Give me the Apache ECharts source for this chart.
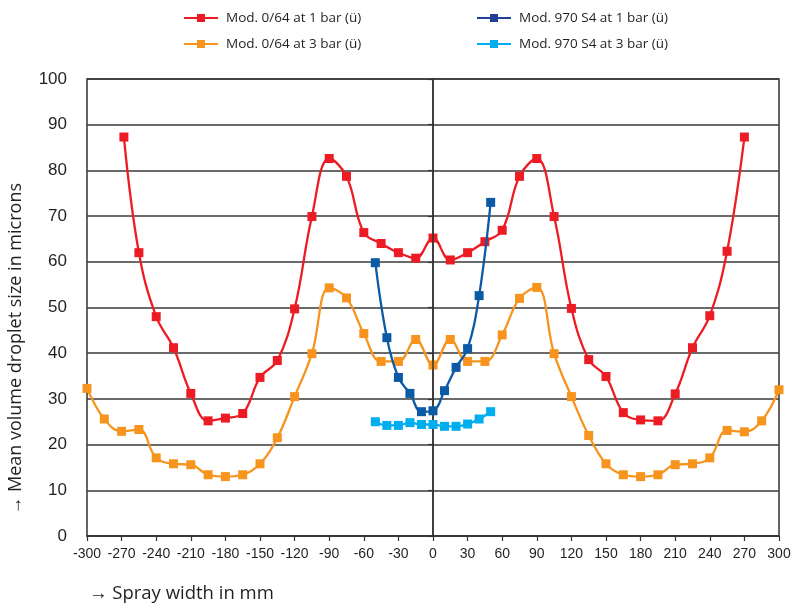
<!DOCTYPE html>
<html>
<head>
<meta charset="utf-8">
<script src="https://cdn.jsdelivr.net/npm/echarts@6/dist/echarts.min.js"></script>
<style>html,body{margin:0;padding:0;background:#fff}#c{width:807px;height:608px}</style>
</head>
<body>
<div id="c"></div>
<script>
// ---- data ----
var xTicks = [-300,-270,-240,-210,-180,-150,-120,-90,-60,-30,0,30,60,90,120,150,180,210,240,270,300];
var yTicks = [0,10,20,30,40,50,60,70,80,90,100];

var mod064_1bar_x = [-268,-255,-240,-225,-210,-195,-180,-165,-150,-135,-120,-105,-90,-75,-60,-45,-30,-15,0,15,30,45,60,75,90,105,120,135,150,165,180,195,210,225,240,255,270];
var mod064_1bar_y = [87.3,62.0,48.0,41.2,31.2,25.2,25.8,26.8,34.7,38.4,49.7,69.9,82.6,78.7,66.4,64.0,62.0,60.8,65.2,60.4,62.0,64.4,66.9,78.7,82.6,69.9,49.8,38.6,34.9,27.0,25.4,25.2,31.1,41.2,48.2,62.3,87.3];

var mod064_3bar_x = [-300,-285,-270,-255,-240,-225,-210,-195,-180,-165,-150,-135,-120,-105,-90,-75,-60,-45,-30,-15,0,15,30,45,60,75,90,105,120,135,150,165,180,195,210,225,240,255,270,285,300];
var mod064_3bar_y = [32.3,25.6,22.9,23.3,17.1,15.8,15.6,13.4,13.0,13.4,15.8,21.5,30.5,39.9,54.3,52.1,44.3,38.2,38.2,43.0,37.4,43.0,38.2,38.2,44.0,52.0,54.4,39.9,30.5,22.0,15.8,13.4,13.0,13.4,15.6,15.8,17.1,23.1,22.8,25.2,32.0];

var mod970_x = [-50,-40,-30,-20,-10,0,10,20,30,40,50];
var mod970_1bar_y = [59.8,43.4,34.7,31.2,27.2,27.4,31.8,36.9,41.0,52.6,73.0];
var mod970_3bar_y = [25.0,24.2,24.2,24.8,24.4,24.4,24.0,24.0,24.5,25.6,27.2];

var names = ['Mod. 0/64 at 1 bar (ü)','Mod. 0/64 at 3 bar (ü)','Mod. 970 S4 at 1 bar (ü)','Mod. 970 S4 at 3 bar (ü)'];
var colors = ['#ed1c24','#f7941d','#0b5aa6','#00aeef'];

function pairs(xs, ys){ return xs.map(function(x,i){ return [x, ys[i]]; }); }

var chart = echarts.init(document.getElementById('c'), null, {renderer:'canvas'});

function mkSeries(i, data, extra){
  var s = {
    name: names[i], type: 'line', data: data,
    smooth: 0.4, symbol: 'rect', symbolSize: 9, showSymbol: true,
    lineStyle: {color: colors[i], width: 2.3},
    itemStyle: {color: colors[i]},
    z: 3 + i
  };
  if (extra) for (var k in extra) s[k] = extra[k];
  return s;
}

var legendText = {fontFamily: 'Open Sans', fontSize: 13.5, color: '#231f20', padding: [0,0,0,3]};

var option = {
  animation: false,
  backgroundColor: '#fff',
  legend: [
    {left: 178, top: 6, orient: 'vertical', itemGap: 12, itemWidth: 34, itemHeight: 10,
     textStyle: legendText, data: [names[0], names[1]]},
    {left: 471, top: 6, orient: 'vertical', itemGap: 12, itemWidth: 34, itemHeight: 10,
     textStyle: legendText,
     data: [{name: names[2], itemStyle: {color: '#213f93'}, lineStyle: {color: '#213f93'}}, names[3]]}
  ],
  grid: {left: 87, right: 28, top: 79, bottom: 72, show: true, borderColor: '#333', borderWidth: 1.5, backgroundColor: 'transparent'},
  xAxis: {
    type: 'value', min: -300, max: 300, interval: 30,
    axisLine: {show: true, lineStyle: {color: '#333', width: 1.5}},
    axisTick: {show: true, length: 5, lineStyle: {color: '#333', width: 1.2}},
    axisLabel: {color: '#231f20', fontFamily: 'Liberation Sans', fontSize: 14, margin: 11},
    splitLine: {show: false}
  },
  yAxis: {
    type: 'value', min: 0, max: 100, interval: 10,
    axisLine: {show: true, lineStyle: {color: '#333', width: 1.5}},
    axisTick: {show: true, length: 5, lineStyle: {color: '#333', width: 1.2}},
    axisLabel: {color: '#231f20', fontFamily: 'Liberation Sans', fontSize: 17, margin: 20},
    splitLine: {show: true, lineStyle: {color: '#3a3a3a', width: 1.5}}
  },
  graphic: [
    {type: 'text', left: 7, top: 183, rotation: Math.PI/2,
     style: {text: '→ Mean volume droplet size in microns', fill: '#231f20', font: '18px "Open Sans"'}},
    {type: 'text', left: 89, top: 584,
     style: {text: '→ Spray width in mm', fill: '#231f20', font: '18.5px "Open Sans"'}}
  ],
  series: [
    mkSeries(0, pairs(mod064_1bar_x, mod064_1bar_y), {
      markLine: {silent: true, symbol: 'none', label: {show: false},
        lineStyle: {color: '#333', type: 'solid', width: 1.5}, data: [{xAxis: 0}]}
    }),
    mkSeries(1, pairs(mod064_3bar_x, mod064_3bar_y)),
    mkSeries(2, pairs(mod970_x, mod970_1bar_y)),
    mkSeries(3, pairs(mod970_x, mod970_3bar_y))
  ]
};
chart.setOption(option);
</script>
</body>
</html>
